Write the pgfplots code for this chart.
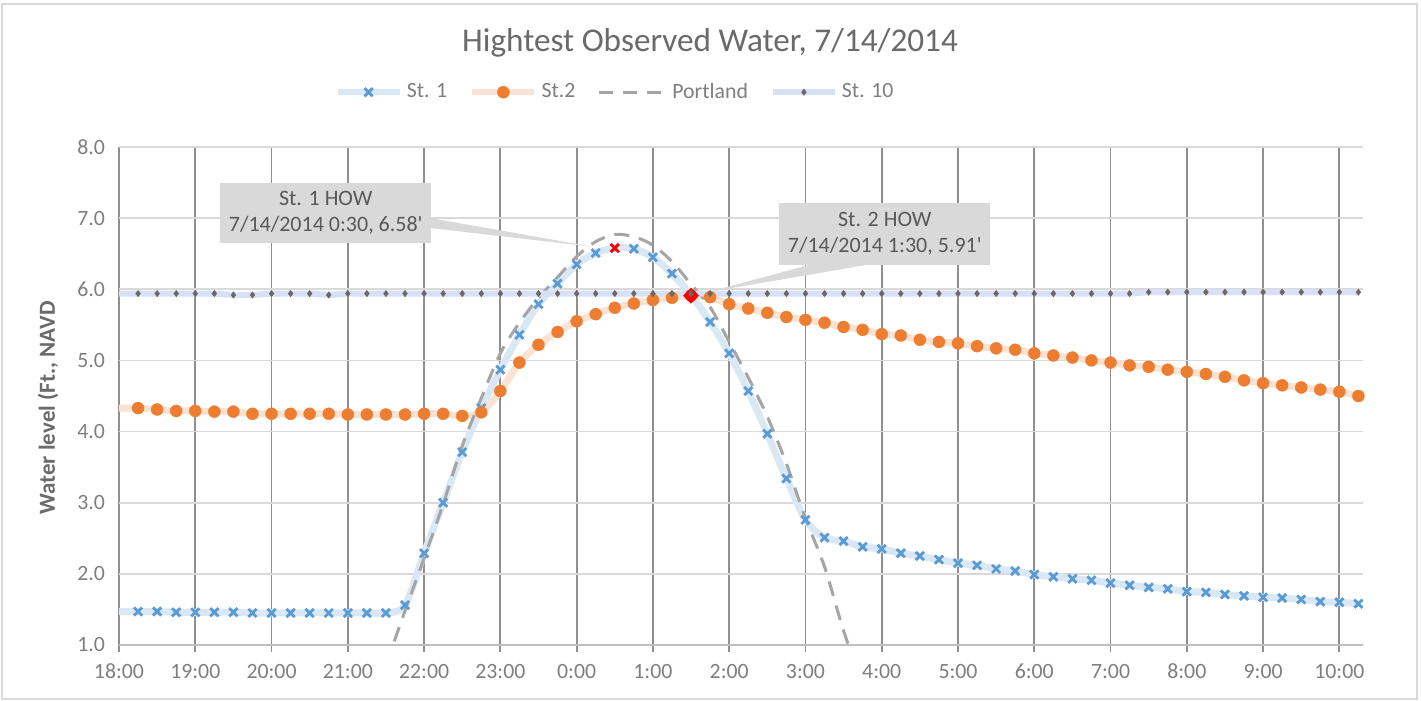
\documentclass[border=0pt]{standalone}
\usepackage{fontspec}
\setmainfont{Carlito}[Ligatures=TeXOff]
\usepackage{pgfplots}
\pgfplotsset{compat=1.18}
\usepackage{pgfplotstable}

\definecolor{StOneLine}{HTML}{DAE8F5}
\definecolor{StOneMark}{HTML}{5B9BD5}
\definecolor{StTwoLine}{HTML}{FBE2D3}
\definecolor{StTwoMark}{HTML}{ED7D31}
\definecolor{StTenLine}{HTML}{D7E1F3}
\definecolor{StTenMark}{HTML}{686868}
\definecolor{PortGray}{HTML}{A5A5A5}
\definecolor{GridDark}{HTML}{8F8F8F}
\definecolor{GridLight}{HTML}{D9D9D9}
\definecolor{AxisGray}{HTML}{BFBFBF}
\definecolor{TickText}{HTML}{7F7F7F}
\definecolor{TitleText}{HTML}{6A6A6A}
\definecolor{LabelText}{HTML}{6A6A6A}
\definecolor{CalloutFill}{HTML}{D9D9D9}
\definecolor{CalloutText}{HTML}{595959}
\definecolor{FrameGray}{HTML}{D9D9D9}

% hours after 18:00
\pgfplotstableread{
x y
0 1.47
0.25 1.47
0.5 1.47
0.75 1.46
1.0 1.46
1.25 1.46
1.5 1.46
1.75 1.45
2.0 1.45
2.25 1.45
2.5 1.45
2.75 1.45
3.0 1.45
3.25 1.45
3.5 1.45
3.75 1.56
4.0 2.29
4.25 3.00
4.5 3.71
4.75 4.33
5.0 4.87
5.25 5.36
5.5 5.79
5.75 6.08
6.0 6.35
6.25 6.51
6.5 6.58
6.75 6.57
7.0 6.45
7.25 6.22
7.5 5.92
7.75 5.54
8.0 5.10
8.25 4.57
8.5 3.97
8.75 3.34
9.0 2.76
9.25 2.51
9.5 2.46
9.75 2.38
10.0 2.35
10.25 2.29
10.5 2.25
10.75 2.20
11.0 2.15
11.25 2.12
11.5 2.07
11.75 2.04
12.0 1.99
12.25 1.96
12.5 1.93
12.75 1.91
13.0 1.87
13.25 1.84
13.5 1.81
13.75 1.79
14.0 1.75
14.25 1.74
14.5 1.71
14.75 1.69
15.0 1.67
15.25 1.66
15.5 1.64
15.75 1.61
16.0 1.60
16.25 1.58
}\stone

\pgfplotstableread{
x y
0 4.33
0.25 4.33
0.5 4.31
0.75 4.29
1.0 4.29
1.25 4.28
1.5 4.28
1.75 4.25
2.0 4.25
2.25 4.25
2.5 4.25
2.75 4.25
3.0 4.24
3.25 4.24
3.5 4.24
3.75 4.24
4.0 4.25
4.25 4.25
4.5 4.22
4.75 4.27
5.0 4.57
5.25 4.97
5.5 5.22
5.75 5.40
6.0 5.55
6.25 5.65
6.5 5.74
6.75 5.80
7.0 5.85
7.25 5.88
7.5 5.91
7.75 5.89
8.0 5.79
8.25 5.73
8.5 5.67
8.75 5.61
9.0 5.57
9.25 5.53
9.5 5.47
9.75 5.43
10.0 5.37
10.25 5.35
10.5 5.29
10.75 5.26
11.0 5.24
11.25 5.20
11.5 5.17
11.75 5.15
12.0 5.10
12.25 5.07
12.5 5.04
12.75 5.00
13.0 4.97
13.25 4.93
13.5 4.91
13.75 4.87
14.0 4.84
14.25 4.81
14.5 4.77
14.75 4.72
15.0 4.68
15.25 4.65
15.5 4.62
15.75 4.59
16.0 4.56
16.25 4.50
}\sttwo

\pgfplotstableread{
x y
3.5 0.72
3.75 1.48
4.0 2.22
4.25 2.98
4.5 3.80
4.75 4.47
5.0 5.10
5.25 5.53
5.5 5.88
5.75 6.17
6.0 6.46
6.25 6.67
6.5 6.77
6.75 6.74
7.0 6.62
7.25 6.39
7.5 6.07
7.75 5.75
8.0 5.26
8.25 4.76
8.5 4.21
8.75 3.55
9.0 2.78
9.25 2.10
9.5 1.20
9.75 0.45
}\portland

\pgfplotstableread{
x y
0 5.94
0.25 5.94
0.5 5.94
0.75 5.94
1.0 5.94
1.25 5.94
1.5 5.92
1.75 5.92
2.0 5.94
2.25 5.94
2.5 5.94
2.75 5.92
3.0 5.94
3.25 5.94
3.5 5.94
3.75 5.94
4.0 5.94
4.25 5.94
4.5 5.94
4.75 5.94
5.0 5.94
5.25 5.94
5.5 5.94
5.75 5.94
6.0 5.94
6.25 5.94
6.5 5.94
6.75 5.94
7.0 5.94
7.25 5.94
7.5 5.94
7.75 5.94
8.0 5.94
8.25 5.94
8.5 5.94
8.75 5.94
9.0 5.94
9.25 5.94
9.5 5.94
9.75 5.94
10.0 5.94
10.25 5.94
10.5 5.94
10.75 5.94
11.0 5.94
11.25 5.94
11.5 5.94
11.75 5.94
12.0 5.94
12.25 5.94
12.5 5.94
12.75 5.94
13.0 5.94
13.25 5.94
13.5 5.96
13.75 5.96
14.0 5.96
14.25 5.96
14.5 5.96
14.75 5.96
15.0 5.96
15.25 5.96
15.5 5.96
15.75 5.96
16.0 5.96
16.25 5.96
}\stten

\begin{document}
\begin{tikzpicture}
\useasboundingbox (0,0) rectangle (710.5bp,350.5bp);
\fill[white] (0,0) rectangle (710.5bp,350.5bp);
\draw[draw=FrameGray, line width=1bp] (1bp,1bp) rectangle (708.5bp,348.5bp);
\node[text=TitleText, font=\fontsize{16.6bp}{19bp}\selectfont] at (355bp,329bp) {Hightest Observed Water, 7/14/2014};
\begin{axis}[
  at={(59.5bp,28bp)}, anchor=south west,
  scale only axis, width=622bp, height=249bp,
  xmin=0, xmax=16.31, ymin=1, ymax=8,
  xtick={0,...,16},
  xticklabels={18:00,19:00,20:00,21:00,22:00,23:00,0:00,1:00,2:00,3:00,4:00,5:00,6:00,7:00,8:00,9:00,10:00},
  ytick={1,...,8},
  /pgf/number format/assume math mode=true,
  yticklabel style={/pgf/number format/.cd, fixed, fixed zerofill, precision=1},
  ticklabel style={font=\fontsize{10.9bp}{13bp}\selectfont, text=TickText},
  xticklabel style={yshift=-2.5bp},
  axis x line*=bottom, axis y line*=left,
  y axis line style={draw=none},
  x axis line style={draw=AxisGray, line width=1bp},
  tick align=outside,
  major tick length=3.5bp,
  xtick style={draw=GridDark, line width=0.9bp},
  ytick style={draw=none},
  grid=major,
  x grid style={draw=GridDark, line width=0.9bp},
  y grid style={draw=GridLight, line width=0.8bp},
  ylabel={Water level (Ft., NAVD},
  ylabel style={font=\bfseries\fontsize{11.5bp}{14bp}\selectfont, text=LabelText, at={(rel axis cs:-0.057,0.476)}, anchor=center},
  legend columns=4,
  legend style={at={(0.1728,1.11)}, anchor=west, draw=none, fill=none, inner sep=0pt,
    font=\fontsize{10.9bp}{13bp}\selectfont, text=TickText,
    /tikz/every even column/.append style={column sep=9bp}},
  legend cell align=left,
]
\addplot[smooth, line width=3.5bp, draw=StOneLine, mark=x, mark size=2.9bp,
  mark options={draw=StOneMark, line width=1.4bp, solid}, mark phase=2, mark repeat=1,
  legend image code/.code={
    \draw[line width=3.2bp, draw=StOneLine] (0bp,0bp) -- (31bp,0bp);
    \draw[mark phase=1, mark repeat=1, mark=x, mark size=2.9bp, draw=StOneMark, line width=1.4bp] plot coordinates {(15.5bp,0bp)};
  }] table {\stone};
\addlegendentry{St. 1}
\addplot[smooth, line width=3.5bp, draw=StTwoLine, mark=*, mark size=3bp,
  mark options={draw=StTwoMark, fill=StTwoMark, line width=0.2bp, solid}, mark phase=2, mark repeat=1,
  legend image code/.code={
    \draw[line width=3.2bp, draw=StTwoLine] (0bp,0bp) -- (31bp,0bp);
    \draw[mark phase=1, mark repeat=1, mark=*, mark size=3bp, draw=StTwoMark, fill=StTwoMark] plot coordinates {(15.5bp,0bp)};
  }] table {\sttwo};
\addlegendentry{St.2}
\addplot[smooth, line width=1.5bp, draw=PortGray, dash pattern=on 7.5bp off 5bp, no markers,
  legend image code/.code={
    \draw[line width=1.5bp, draw=PortGray, dash pattern=on 7bp off 5bp] (0bp,0bp) -- (34bp,0bp);
  }] table {\portland};
\addlegendentry{Portland}
\addplot[line width=3bp, draw=StTenLine, mark=diamond*, mark size=1.6bp,
  mark options={draw=StTenMark, fill=StTenMark, line width=0.2bp, solid}, mark phase=2, mark repeat=1,
  legend image code/.code={
    \draw[line width=3bp, draw=StTenLine] (0bp,0bp) -- (31bp,0bp);
    \draw[mark phase=1, mark repeat=1, mark=diamond*, mark size=1.6bp, draw=StTenMark, fill=StTenMark] plot coordinates {(15.5bp,0bp)};
  }] table {\stten};
\addlegendentry{St. 10}
% highlighted highest observed points
\addplot[only marks, forget plot, mark=x, mark size=2.9bp, mark options={draw=red, line width=1.4bp}] coordinates {(6.5,6.58)};
\addplot[only marks, forget plot, mark=square*, mark size=2.6bp, mark options={draw=red, fill=red, rotate=45}] coordinates {(7.5,5.91)};
\addplot[only marks, forget plot, mark=diamond*, mark size=1.6bp, mark options={draw=StTenMark, fill=StTenMark}] coordinates {(7.5,5.94)};
% callouts
\fill[CalloutFill] (axis cs:1.325,7.49) rectangle (axis cs:4.09,6.65);
\fill[CalloutFill] (axis cs:4.09,7.00) -- (axis cs:6.2,6.60) -- (axis cs:4.09,6.86) -- cycle;
\node[align=center, text=CalloutText, font=\fontsize{11bp}{13bp}\selectfont] at (axis cs:2.71,7.07) {St. 1 HOW\\7/14/2014 0:30, 6.58'};
\fill[CalloutFill] (axis cs:8.656,7.21) rectangle (axis cs:11.42,6.34);
\fill[CalloutFill] (axis cs:9.06,6.345) -- (axis cs:7.72,5.96) -- (axis cs:9.81,6.345) -- cycle;
\node[align=center, text=CalloutText, font=\fontsize{11bp}{13bp}\selectfont] at (axis cs:10.04,6.78) {St. 2 HOW\\7/14/2014 1:30, 5.91'};
\end{axis}
\end{tikzpicture}
\end{document}
